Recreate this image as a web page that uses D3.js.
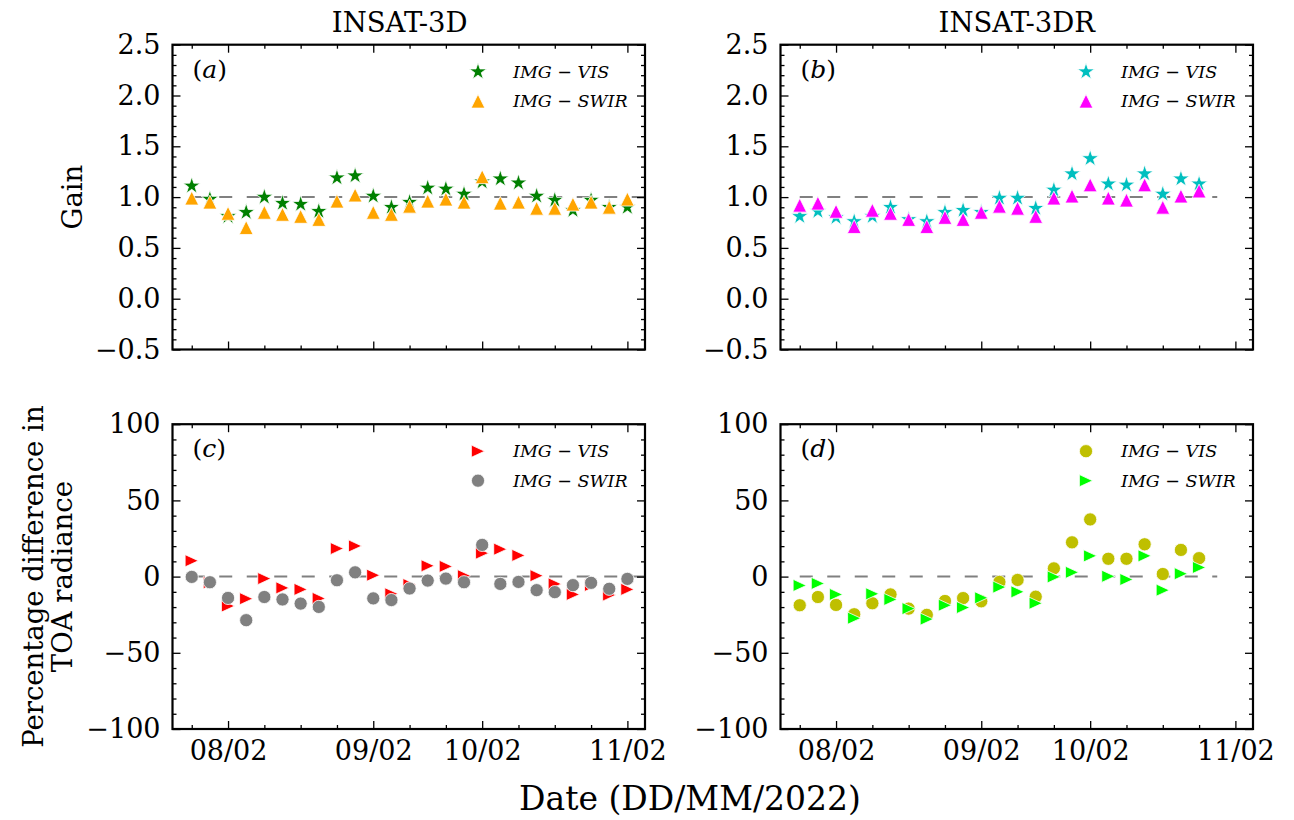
<!DOCTYPE html>
<html>
<head>
<meta charset="utf-8">
<script src="https://cdn.jsdelivr.net/npm/d3@7"></script>
<style>
body { margin: 0; background: #fff; }
svg { display: block; }
</style>
</head>
<body>
<svg id="fig" width="1294" height="820"></svg>
<script>
// gain values, one per observation (INSAT-3D has 25, INSAT-3DR has 23)
let gainVis3D = [1.11, 0.98, 0.81, 0.85, 1.00, 0.94, 0.93, 0.86, 1.19, 1.21, 1.01, 0.90, 0.95,
    1.09, 1.08, 1.03, 1.15, 1.18, 1.14, 1.01, 0.97, 0.87, 0.97, 0.90, 0.90];
let gainSwir3D = [0.99, 0.95, 0.84, 0.70, 0.85, 0.83, 0.81, 0.78, 0.96, 1.02, 0.85, 0.83, 0.91,
    0.96, 0.98, 0.95, 1.20, 0.94, 0.95, 0.89, 0.89, 0.93, 0.95, 0.90, 0.98];
let gainVis3DR = [0.81, 0.86, 0.80, 0.76, 0.81, 0.90, 0.78, 0.76, 0.85, 0.87, 0.85, 0.99, 0.99,
    0.89, 1.07, 1.23, 1.38, 1.13, 1.12, 1.23, 1.03, 1.18, 1.13];
let gainSwir3DR = [0.92, 0.94, 0.86, 0.71, 0.87, 0.84, 0.78, 0.71, 0.80, 0.78, 0.85, 0.91, 0.89,
    0.81, 0.99, 1.01, 1.12, 0.99, 0.97, 1.12, 0.90, 1.01, 1.06];

// percentage difference in TOA radiance
let pctVis3D = [10.4, -4, -19.3, -14.5, -1.3, -7.4, -8.4, -14.3, 18.4, 20.1, 0.9, -11.3, -5.2,
    7.1, 6.7, 0.6, 15.4, 18, 13.9, 0.6, -4.8, -11.7, -5.8, -12.1, -8.4];
let pctSwir3D = [-0.2, -3.7, -14, -28.6, -13.4, -15, -17.7, -19.9, -2.4, 2.8, -14.3, -15.4, -7.8,
    -2.6, -1.3, -3.7, 20.8, -4.8, -3.5, -8.9, -10.2, -5.6, -4.1, -8, -1.5];
let pctVis3DR = [-18.8, -13.4, -18.6, -24.7, -17.5, -11.7, -21, -25.1, -16, -14.1, -16.2, -3.5,
    -2.2, -13.2, 5.4, 22.5, 37.5, 11.7, 11.7, 21.2, 1.7, 17.5, 12.1];
let pctSwir3DR = [-5.8, -4.5, -11.7, -27.3, -11.3, -15, -21, -27.9, -18.8, -20.3, -13.9, -6.9,
    -10, -17.5, -0.2, 2.8, 13.6, 0.2, -1.9, 13.6, -8.9, 1.9, 6];

// x axis is in observation slots; dates only appear as tick labels
let dateTicks = [2, 10, 16, 24];
let dateLabels = ["08/02", "09/02", "10/02", "11/02"];
let dateMinor = [0, 4, 6, 8, 12, 14, 18, 20, 22];
let gainTicks = [-0.5, 0.0, 0.5, 1.0, 1.5, 2.0, 2.5];
let pctTicks = [-100, -50, 0, 50, 100];

let svg = d3.select("#fig");
let W = 472.5, H = 304.8;
let colX = [172.5, 780.5];
let rowY = [44.7, 424.2];
let font = "'DejaVu Serif', 'Liberation Serif', serif";

// marker shapes, centred on 0,0
let shapes = {
    star: function () {
        let pts = [];
        for (let k = 0; k < 10; k++) {
            let r = k % 2 === 0 ? 9 : 9 * 0.381966;
            let a = -Math.PI / 2 + k * Math.PI / 5;
            pts.push([r * Math.cos(a), r * Math.sin(a)]);
        }
        return "M" + pts.map(p => p[0].toFixed(2) + "," + p[1].toFixed(2)).join("L") + "Z";
    }(),
    triUp: "M0,-6.9L-6.9,6.9L6.9,6.9Z",
    triRight: "M6.6,0L-6.6,-6.1L-6.6,6.1Z",
    circle: "M6.6,0A6.6,6.6 0 1,1 -6.6,0A6.6,6.6 0 1,1 6.6,0Z"
};

function drawPanel(p) {
    let g = svg.append("g").attr("transform", "translate(" + p.x + "," + p.y + ")");
    let xScale = d3.scaleLinear().domain([-1.06, 24.97]).range([0, W]);
    let yScale = d3.scaleLinear().domain(p.yDomain).range([H, 0]);
    let n = p.series[0].values.length;

    // reference line
    g.append("line")
        .attr("x1", xScale(0)).attr("x2", Math.min(xScale(n), W))
        .attr("y1", yScale(p.ref)).attr("y2", yScale(p.ref))
        .attr("stroke", "#808080").attr("stroke-width", 2).attr("stroke-dasharray", "13,14.5");

    for (let s of p.series) {
        g.append("g").selectAll("path").data(s.values).enter().append("path")
            .attr("d", shapes[s.shape])
            .attr("transform", (d, i) => "translate(" + xScale(i) + "," + yScale(d) + ")")
            .attr("fill", s.color).attr("stroke", "#fff").attr("stroke-width", 0.8);
    }

    // ticks on all four sides, pointing in
    let yMinor = yScale.ticks(p.minorCount).filter(v => p.yTicks.indexOf(Math.round(v * 100) / 100) < 0);
    let axes = [
        [d3.axisBottom(xScale).tickValues(dateTicks).tickFormat((d, i) => p.xLabels ? dateLabels[i] : ""), 0, H, 8],
        [d3.axisBottom(xScale).tickValues(dateMinor).tickFormat(""), 0, H, 4],
        [d3.axisTop(xScale).tickValues(dateTicks).tickFormat(""), 0, 0, 8],
        [d3.axisTop(xScale).tickValues(dateMinor).tickFormat(""), 0, 0, 4],
        [d3.axisLeft(yScale).tickValues(p.yTicks).tickFormat(p.fmt), 0, 0, 8],
        [d3.axisLeft(yScale).tickValues(yMinor).tickFormat(""), 0, 0, 4],
        [d3.axisRight(yScale).tickValues(p.yTicks).tickFormat(""), W, 0, 8],
        [d3.axisRight(yScale).tickValues(yMinor).tickFormat(""), W, 0, 4]
    ];
    for (let a of axes) {
        let ax = g.append("g").attr("transform", "translate(" + a[1] + "," + a[2] + ")")
            .call(a[0].tickSize(-a[3]).tickSizeOuter(0).tickPadding(a[3] === 8 ? 12 : 0));
        ax.attr("font-family", font).attr("font-size", 27);
        ax.select(".domain").remove();
        ax.selectAll("line").attr("stroke", "#000").attr("stroke-width", 1.3);
        ax.selectAll("text").attr("fill", "#000");
    }
    g.append("rect").attr("width", W).attr("height", H)
        .attr("fill", "none").attr("stroke", "#000").attr("stroke-width", 2.2);

    // panel letter
    let lt = g.append("text").attr("x", 20).attr("y", 33)
        .attr("font-family", font).attr("font-size", 25);
    lt.append("tspan").text("(");
    lt.append("tspan").attr("font-style", "italic").text(p.letter);
    lt.append("tspan").text(")");

    // legend
    let lg = g.append("g").attr("transform", "translate(" + (W - 167) + ",27)");
    p.series.forEach(function (s, i) {
        lg.append("path").attr("d", shapes[s.shape])
            .attr("transform", "translate(0," + (i * 29.5) + ")")
            .attr("fill", s.color).attr("stroke", "#fff").attr("stroke-width", 0.8);
        lg.append("text").attr("x", 35).attr("y", i * 29.5 + 6)
            .attr("font-family", font).attr("font-style", "italic").attr("font-size", 17.5)
            .text(s.name);
    });
}

let gainFmt = d3.format(".1f");
let pctFmt = d3.format("d");

drawPanel({x: colX[0], y: rowY[0], letter: "a", yDomain: [-0.5, 2.5], ref: 1, yTicks: gainTicks,
    minorCount: 30, fmt: gainFmt, xLabels: false, series: [
        {name: "IMG \u2212 VIS", values: gainVis3D, shape: "star", color: "#008000"},
        {name: "IMG \u2212 SWIR", values: gainSwir3D, shape: "triUp", color: "#ffa500"}]});
drawPanel({x: colX[1], y: rowY[0], letter: "b", yDomain: [-0.5, 2.5], ref: 1, yTicks: gainTicks,
    minorCount: 30, fmt: gainFmt, xLabels: false, series: [
        {name: "IMG \u2212 VIS", values: gainVis3DR, shape: "star", color: "#00bfbf"},
        {name: "IMG \u2212 SWIR", values: gainSwir3DR, shape: "triUp", color: "#ff00ff"}]});
drawPanel({x: colX[0], y: rowY[1], letter: "c", yDomain: [-100, 100], ref: 0, yTicks: pctTicks,
    minorCount: 20, fmt: pctFmt, xLabels: true, series: [
        {name: "IMG \u2212 VIS", values: pctVis3D, shape: "triRight", color: "#ff0000"},
        {name: "IMG \u2212 SWIR", values: pctSwir3D, shape: "circle", color: "#808080"}]});
drawPanel({x: colX[1], y: rowY[1], letter: "d", yDomain: [-100, 100], ref: 0, yTicks: pctTicks,
    minorCount: 20, fmt: pctFmt, xLabels: true, series: [
        {name: "IMG \u2212 VIS", values: pctVis3DR, shape: "circle", color: "#bfbf00"},
        {name: "IMG \u2212 SWIR", values: pctSwir3DR, shape: "triRight", color: "#00ff00"}]});

// titles and axis labels
svg.append("text").attr("x", colX[0] + W / 2 - 9).attr("y", 32).attr("text-anchor", "middle")
    .attr("font-family", font).attr("font-size", 27.5).text("INSAT-3D");
svg.append("text").attr("x", colX[1] + W / 2).attr("y", 32).attr("text-anchor", "middle")
    .attr("font-family", font).attr("font-size", 27.5).text("INSAT-3DR");
svg.append("text").attr("transform", "translate(82," + (rowY[0] + H / 2) + ") rotate(-90)")
    .attr("text-anchor", "middle").attr("font-family", font).attr("font-size", 27.5).text("Gain");
let yl = svg.append("text").attr("transform", "translate(43," + (rowY[1] + H / 2) + ") rotate(-90)")
    .attr("text-anchor", "middle").attr("font-family", font).attr("font-size", 27.5);
yl.append("tspan").attr("x", 0).attr("y", 0).text("Percentage difference in");
yl.append("tspan").attr("x", 0).attr("y", 29).text("TOA radiance");
svg.append("text").attr("x", 690).attr("y", 810).attr("text-anchor", "middle")
    .attr("font-family", font).attr("font-size", 33).text("Date (DD/MM/2022)");
</script>
</body>
</html>
